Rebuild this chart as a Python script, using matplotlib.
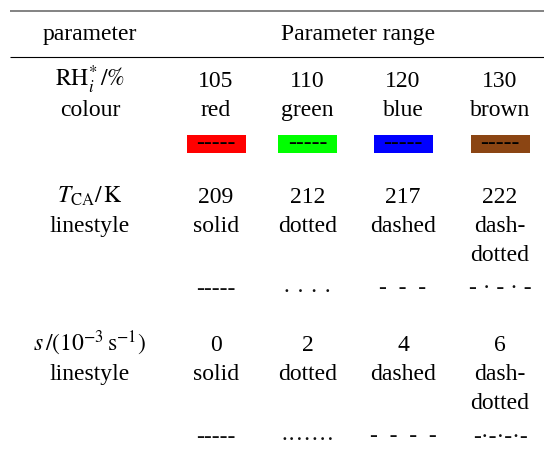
import matplotlib
matplotlib.use("Agg")
import matplotlib.pyplot as plt
from matplotlib.patches import Rectangle

plt.rcParams["font.family"] = ["Liberation Serif", "DejaVu Serif"]
plt.rcParams["mathtext.fontset"] = "stix"

# Table contents
header_left = "parameter"
header_right = "Parameter range"

rh_label = r"$\mathrm{RH}_i^{*}\,/\%$"
rh_values = ["105", "110", "120", "130"]
colour_names = ["red", "green", "blue", "brown"]
colour_codes = ["#ff0000", "#00ff00", "#0000ff", "#8b4513"]

tca_label = r"$T_{\mathrm{CA}}/\,\mathrm{K}$"
tca_values = ["209", "212", "217", "222"]

s_label = r"$s\,/(10^{-3}\,\mathrm{s}^{-1})$"
s_values = ["0", "2", "4", "6"]

style_names = ["solid", "dotted", "dashed", "dash-\ndotted"]
tca_samples = ["-----", "· · · ·", "-  -  -", "- · - · -"]
s_samples = ["-----", "·······", "-  -  -  -", "-·-·-·-"]

W, H = 544, 450
fig = plt.figure(figsize=(W / 100, H / 100), dpi=100)
ax = fig.add_axes([0, 0, 1, 1])
ax.set_xlim(0, W)
ax.set_ylim(H, 0)
ax.axis("off")

fs = 17
label_x = 90
col_x = [216, 307.5, 403, 500]
line_gap = 29

# rules
ax.plot([10, W], [11, 11], color="#6e6e6e", lw=1.2, solid_capstyle="butt")
ax.plot([10, W], [56.5, 56.5], color="black", lw=0.8, solid_capstyle="butt")

ax.text(label_x, 40, header_left, fontsize=fs, ha="center", va="baseline")
ax.text(358, 40, header_right, fontsize=fs, ha="center", va="baseline")


def sample(x, y, smp):
    # pure dot patterns sit a little high, nudge them onto the dash line
    dy = 4 if set(smp) <= {"·", " "} else 0
    ax.text(x, y + dy, smp, fontsize=fs, ha="center", va="center",
            color="#111111")


def block(y0, label, values, names, samples=None, sample_y=None):
    ax.text(label_x, y0, label, fontsize=fs, ha="center", va="baseline")
    second = "colour" if names is colour_names else "linestyle"
    ax.text(label_x, y0 + line_gap, second, fontsize=fs, ha="center", va="baseline")
    for x, v, n in zip(col_x, values, names):
        ax.text(x, y0, v, fontsize=fs, ha="center", va="baseline")
        for k, part in enumerate(n.split("\n")):
            ax.text(x, y0 + line_gap * (k + 1), part, fontsize=fs,
                    ha="center", va="baseline")
    if samples is not None:
        for x, smp in zip(col_x, samples):
            sample(x, sample_y, smp)


# colour row with swatches
block(87, rh_label, rh_values, colour_names)
for x, c in zip(col_x, colour_codes):
    ax.add_patch(Rectangle((x - 29.5, 135), 59, 18, facecolor=c,
                           edgecolor="none"))
    ax.text(x, 144, "-----", fontsize=fs, ha="center", va="center",
            color="black")

block(203, tca_label, tca_values, style_names, tca_samples, 289)
block(351, s_label, s_values, style_names, s_samples, 437)

fig.savefig("out.png", dpi=100)
